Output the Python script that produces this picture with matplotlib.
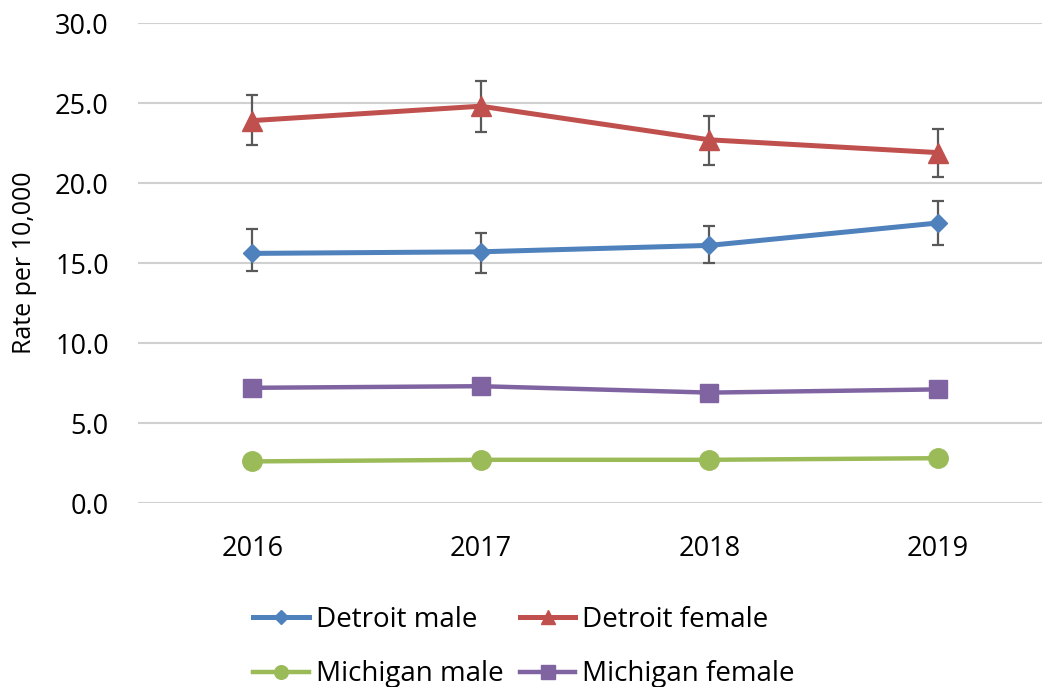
import matplotlib
matplotlib.use('Agg')
import matplotlib.pyplot as plt
import numpy as np

plt.rcParams['font.family'] = ['Open Sans', 'DejaVu Sans']

years = ['2016', '2017', '2018', '2019']

detroit_male = [15.6, 15.7, 16.1, 17.5]
detroit_male_lo = [14.5, 14.4, 15.0, 16.1]
detroit_male_hi = [17.1, 16.9, 17.3, 18.9]

detroit_female = [23.9, 24.8, 22.7, 21.9]
detroit_female_lo = [22.4, 23.2, 21.1, 20.4]
detroit_female_hi = [25.5, 26.4, 24.2, 23.4]

michigan_male = [2.6, 2.7, 2.7, 2.8]
michigan_female = [7.2, 7.3, 6.9, 7.1]

y_ticks = [0, 5, 10, 15, 20, 25, 30]

W, H = 1042, 687
fig = plt.figure(figsize=(W / 100, H / 100), dpi=100)
ax = fig.add_axes([138 / W, 1 - 503 / H, (1052 - 138) / W, (503 - 23) / H])

x = np.arange(len(years)) + 0.5
err_col = '#595959'

def yerr(vals, lo, hi):
    v = np.array(vals)
    return [v - np.array(lo), np.array(hi) - v]

ax.errorbar(x, detroit_male, yerr=yerr(detroit_male, detroit_male_lo, detroit_male_hi),
            fmt='none', ecolor=err_col, elinewidth=1.6, capsize=4.5, capthick=1.6, zorder=2)
ax.errorbar(x, detroit_female, yerr=yerr(detroit_female, detroit_female_lo, detroit_female_hi),
            fmt='none', ecolor=err_col, elinewidth=1.6, capsize=4.5, capthick=1.6, zorder=2)

l1, = ax.plot(x, detroit_male, color='#4F81BD', lw=3.6, marker='D', ms=9.5, label='Detroit male', zorder=3)
l2, = ax.plot(x, detroit_female, color='#C0504D', lw=3.6, marker='^', ms=14.5, label='Detroit female', zorder=3)
l3, = ax.plot(x, michigan_male, color='#9BBB59', lw=3.2, marker='o', ms=14, label='Michigan male', zorder=3)
l4, = ax.plot(x, michigan_female, color='#8064A2', lw=3.2, marker='s', ms=13.5, label='Michigan female', zorder=3)

ax.set_xlim(0, len(years))
ax.set_ylim(0, 30)
ax.set_yticks(y_ticks)
ax.set_yticklabels([f'{t:.1f}' for t in y_ticks])
ax.set_xticks(x)
ax.set_xticklabels(years)
ax.tick_params(axis='both', length=0, labelsize=19.5)
ax.tick_params(axis='y', pad=21)
ax.tick_params(axis='x', pad=23)
ax.grid(axis='y', color='#d0d0d0', lw=1.5)
ax.set_axisbelow(True)
for s in ax.spines.values():
    s.set_visible(False)

ax.set_ylabel('Rate per 10,000', fontsize=18)
ax.yaxis.set_label_coords(-0.111, 0.5)

fig.legend(handles=[l1, l3, l2, l4], ncol=2, loc='upper left',
           bbox_to_anchor=(253 / W, 1 - 606 / H), frameon=False, fontsize=20,
           handlelength=2.0, handletextpad=0.25, columnspacing=0.6,
           labelspacing=0.95, borderpad=0, borderaxespad=0, markerscale=0.7)

fig.savefig('out.png', dpi=100)
